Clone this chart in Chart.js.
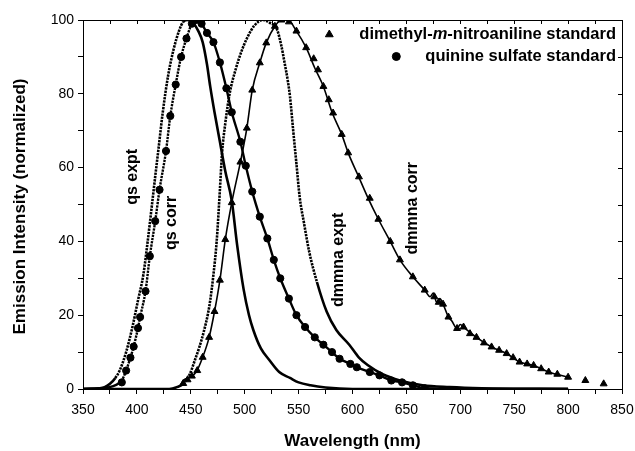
<!DOCTYPE html>
<html>
<head>
<meta charset="utf-8">
<script src="https://cdn.jsdelivr.net/npm/chart.js@4.4.0/dist/chart.umd.min.js"></script>
<style>
html,body{margin:0;padding:0;background:#fff;}
</style>
</head>
<body>
<canvas id="myChart" width="635" height="451"></canvas>
<script>
// wavelength (nm) / normalized intensity
var qsExptX=[350,365,370,375,380,384,390,396,401,406,410,414,417,420,424,429,434,439,443,447,452,457,461,465,468,472,477,482,488,493,499,504,508,515,523,532,542,550,561,575,600,800];
var qsExptY=[0,0.2,0.5,1.4,3,5,10,17,24,31,40,50,57.6,65,75,85,92,97,99.5,100,99.3,97,94,88,82,75,67,59,51,39,27,20,16,11,7.8,4.6,3,1.8,1,0.4,0,0];

var qsCorrX=[350,370,378,383,386,390,394,397,401,403,408,412,417,421,427,431,436,441,446,451,455.5,460,465,471,477,483,488,496,501,507,514,521,527,533,541,548,556,565,573,581,588,598,604,616,625,636,646,656,667,700,800];
var qsCorrY=[0,0.3,0.8,1.5,2.3,5,8.5,11.5,16.5,19.5,26.5,36,45.5,54,64.5,74,82.5,90,95,99,100,99,96.5,94,88.5,81.5,75,67,60.5,53.5,46.7,40.8,35,30,24.5,20,16.8,14,12,10,8.2,6.8,5.9,4.6,3.7,2.3,1.8,1,0.2,0,0];

var dmExptX=[350,430,437,443,449,454,458,462,466,468,471,474,477,479,482,486,492,497,502,509,517,523,530,534,537,540,542,545,548,551,555,560,567,576,585,597,606,614,628,644,665,690,720,800];
var dmExptY=[0,0,0.5,1.4,4,8,11.4,15.5,20.5,24,31,40,54,64,72,80,87,91.5,95,98.5,100,99.3,97.4,93,88.4,83.5,79.3,70,61,52,45,37,29,21,16,12,8.5,6.5,4,2.3,1,0.5,0.2,0];

var dmCorrX=[350,430,440,443,449,455,461,467,472,477,482,488,496,502,507,514,520,528,534,540,548,557,565,573,581,590,596,605,614,624,635,644,656,667,672,675,678,681,684,689,692,697,700,703,715,729,743,755,768,782,800];
var dmCorrY=[0,0,1,2.3,3.2,4.6,8.6,14,21,29.5,40.5,50.5,61.5,70.7,81,88.4,93.8,98.3,100,100,97,92.5,87,82,75,69,64,58,52,46,40,35,30.4,26.8,25,26,23.5,24.5,23,19.5,18.5,16.4,17.5,16.8,14,11.4,9.6,7.3,6.4,4.6,3.2];

// standards (markers)
var dmStdX=[443,447,451,456,461,467,472,477,482,488,496,502,507,514,520,528,534,541,548,557,564,568,573,578,582,590,596,606,616,624,635,644,656,667,676,680,684,689,697,703,709,715,722,729,736,743,749,755,762,768,775,782,790,800,816,833];
var dmStdY=[1.5,2.5,3.5,5,8.6,14,21,29.5,40.5,50.5,61.5,70.7,81,88.4,93.8,98.3,100,99.5,97,92.5,89.5,86.5,82,78.4,74.8,69,64,57.5,51.7,46,40,35,30.4,26.8,25,23.5,23,19.5,16.4,16.8,15,14,12.5,11.4,10.5,9.6,8.5,7.3,6.8,6.4,5.5,4.6,4,3.2,2.3,1.4];

var qsStdX=[386,390,394,397,401,403,408,412,417,421,427,431,436,441,446,451,455,460,465,471,477,483,488,496,501,507,514,521,527,533,541,548,556,565,573,581,588,598,604,616,625,636,646,656,667];
var qsStdY=[1.8,5,8.5,11.5,16.5,19.5,26.5,36,45.5,54,64.5,74,82.5,90,95,99,100,99,96.5,94,88.5,81.5,75,67,60.5,53.5,46.7,40.8,35,30,24.5,20,16.8,14,12,10,8.2,6.8,5.9,4.6,3.7,2.3,1.8,1,0.2];

var curveNames=['qs expt','qs corr','dmmna expt','dmmna corr'];
var curveLabelX=[396,432.5,587,656];
var curveLabelY=[57.5,45,35,49];

var FONT='"Liberation Sans", Arial, sans-serif';

function pts(xs,ys){
	return xs.map(function(x,i){return {x:x,y:ys[i]};});
}

// dotted look of the densely sampled steep parts
function dotted(lo,hi){
	return function(s){
		var x=s.p0.parsed.x;
		return (x>=lo && x<hi) ? [2.3,1] : undefined;
	};
}

function lineSet(label,xs,ys,width,lo,hi){
	return {
		label:label,
		data:pts(xs,ys),
		borderColor:'#000',
		borderWidth:width,
		pointRadius:0,
		fill:false,
		cubicInterpolationMode:'monotone',
		order:2,
		segment:{borderDash:dotted(lo,hi)}
	};
}

function vtext(g,s,x,y){
	g.save();
	g.translate(x,y);
	g.rotate(-Math.PI/2);
	g.textAlign='center';
	g.textBaseline='middle';
	g.fillText(s,0,0);
	g.restore();
}

var extras={
	id:'extras',
	afterDraw:function(c){
		var g=c.ctx, a=c.chartArea, xs=c.scales.x, ys=c.scales.y;
		g.save();
		// top and right frame, inward ticks
		g.strokeStyle='#000';
		g.lineWidth=1;
		g.beginPath();
		g.moveTo(a.left,a.top+0.5);g.lineTo(a.right+0.5,a.top+0.5);g.lineTo(a.right+0.5,a.bottom);
		xs.ticks.forEach(function(t){
			var px=Math.round(xs.getPixelForValue(t.value))+0.5;
			g.moveTo(px,a.top);g.lineTo(px,a.top+4);
		});
		ys.ticks.forEach(function(t){
			var py=Math.round(ys.getPixelForValue(t.value))+0.5;
			g.moveTo(a.right,py);g.lineTo(a.right-4,py);
		});
		g.stroke();

		g.fillStyle='#000';
		// axis titles
		g.font='bold 17px '+FONT;
		g.textAlign='center';
		g.textBaseline='middle';
		g.fillText('Wavelength (nm)',(a.left+a.right)/2,441);
		vtext(g,'Emission Intensity (normalized)',20,(a.top+a.bottom)/2+2);

		// curve labels
		g.font='bold 16px '+FONT;
		curveNames.forEach(function(n,i){
			vtext(g,n,xs.getPixelForValue(curveLabelX[i]),ys.getPixelForValue(curveLabelY[i]));
		});

		// legend
		var right=a.right-6;
		g.textBaseline='middle';
		g.textAlign='left';
		var y1=a.top+14.5, y2=a.top+36.5;
		var f='bold 16.5px '+FONT, fi='bold italic 16.5px '+FONT;
		g.font=f; var w1=g.measureText('dimethyl-').width, w3=g.measureText('-nitroaniline standard').width;
		g.font=fi; var w2=g.measureText('m').width;
		var x0=right-w1-w2-w3;
		g.font=f; g.fillText('dimethyl-',x0,y1);
		g.font=fi; g.fillText('m',x0+w1,y1);
		g.font=f; g.fillText('-nitroaniline standard',x0+w1+w2,y1);
		g.strokeStyle='#000';
		Chart.helpers.drawPoint(g,{pointStyle:'triangle',radius:4.5,borderWidth:1,rotation:0},x0-30,y1);
		g.font=f;
		var w4=g.measureText('quinine sulfate standard').width;
		g.fillText('quinine sulfate standard',right-w4,y2);
		Chart.helpers.drawPoint(g,{pointStyle:'circle',radius:4,borderWidth:1,rotation:0},right-w4-29,y2);
		g.restore();
	}
};

var myChart=document.getElementById("myChart").getContext('2d');

var chart=new Chart(myChart,{
	type:'line',
	data:{
		datasets:[
			lineSet('qs expt',qsExptX,qsExptY,2.6,376,441),
			lineSet('qs corr',qsCorrX,qsCorrY,2.4,380,447),
			lineSet('dmmna expt',dmExptX,dmExptY,2.6,440,563),
			lineSet('dmmna corr',dmCorrX,dmCorrY,1.6,0,0),
			{
				label:'dimethyl-m-nitroaniline standard',
				data:pts(dmStdX,dmStdY),
				showLine:false,
				pointStyle:'triangle',
				pointRadius:4,
				borderWidth:1,
				backgroundColor:'#000',
				borderColor:'#000',
				order:1
			},
			{
				label:'quinine sulfate standard',
				data:pts(qsStdX,qsStdY),
				showLine:false,
				pointStyle:'circle',
				pointRadius:3.6,
				borderWidth:1,
				backgroundColor:'#000',
				borderColor:'#000',
				order:0
			}
		]
	},
	options:{
		responsive:false,
		animation:false,
		layout:{padding:{left:0,right:13,top:20,bottom:0}},
		plugins:{legend:{display:false},tooltip:{enabled:false}},
		scales:{
			x:{
				type:'linear',min:350,max:850,
				afterFit:function(s){s.height=62;s.paddingLeft=0;s.paddingRight=0;},
				ticks:{stepSize:25,autoSkip:false,maxRotation:0,color:'#000',padding:8,
					font:{family:FONT,size:14},
					callback:function(v){return v%50===0?String(v):'';}},
				grid:{drawOnChartArea:false,color:'#000',tickLength:5},
				border:{color:'#000',width:1}
			},
			y:{
				min:0,max:100,
				afterFit:function(s){s.width=83;s.paddingTop=0;s.paddingBottom=0;},
				ticks:{stepSize:10,color:'#000',padding:4,
					font:{family:FONT,size:14},
					callback:function(v){return v%20===0?String(v):'';}},
				grid:{drawOnChartArea:false,color:'#000',tickLength:5},
				border:{color:'#000',width:1}
			}
		}
	},
	plugins:[extras]
});
</script>
</body>
</html>
